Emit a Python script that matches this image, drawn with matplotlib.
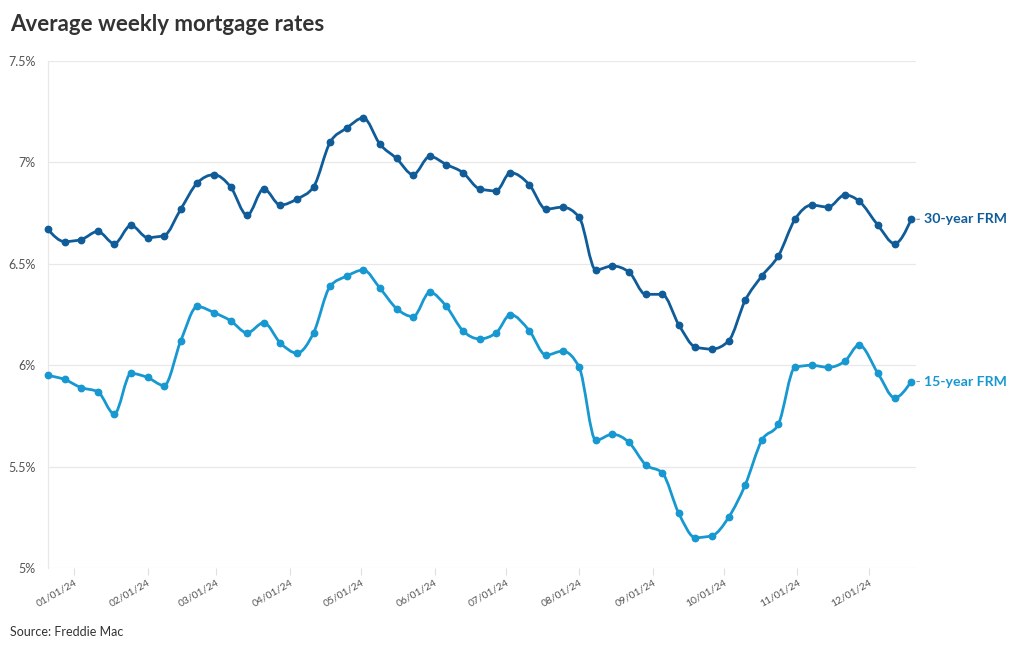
import numpy as np
import pandas as pd
import matplotlib
matplotlib.use("Agg")
import matplotlib.pyplot as plt
import matplotlib.dates as mdates
from matplotlib.path import Path
from matplotlib.patches import PathPatch

plt.rcParams["font.family"] = ["Lato", "DejaVu Sans"]

# weekly survey dates (Freddie Mac PMMS)
dates = [
    "2023-12-21", "2023-12-28",
    "2024-01-04", "2024-01-11", "2024-01-18", "2024-01-25",
    "2024-02-01", "2024-02-08", "2024-02-15", "2024-02-22", "2024-02-29",
    "2024-03-07", "2024-03-14", "2024-03-21", "2024-03-28",
    "2024-04-04", "2024-04-11", "2024-04-18", "2024-04-25",
    "2024-05-02", "2024-05-09", "2024-05-16", "2024-05-23", "2024-05-30",
    "2024-06-06", "2024-06-13", "2024-06-20", "2024-06-27",
    "2024-07-03", "2024-07-11", "2024-07-18", "2024-07-25",
    "2024-08-01", "2024-08-08", "2024-08-15", "2024-08-22", "2024-08-29",
    "2024-09-05", "2024-09-12", "2024-09-19", "2024-09-26",
    "2024-10-03", "2024-10-10", "2024-10-17", "2024-10-24", "2024-10-31",
    "2024-11-07", "2024-11-14", "2024-11-21", "2024-11-27",
    "2024-12-05", "2024-12-12", "2024-12-19",
]

frm30 = [
    6.67, 6.61,
    6.62, 6.66, 6.60, 6.69,
    6.63, 6.64, 6.77, 6.90, 6.94,
    6.88, 6.74, 6.87, 6.79,
    6.82, 6.88, 7.10, 7.17,
    7.22, 7.09, 7.02, 6.94, 7.03,
    6.99, 6.95, 6.87, 6.86,
    6.95, 6.89, 6.77, 6.78,
    6.73, 6.47, 6.49, 6.46, 6.35,
    6.35, 6.20, 6.09, 6.08,
    6.12, 6.32, 6.44, 6.54, 6.72,
    6.79, 6.78, 6.84, 6.81,
    6.69, 6.60, 6.72,
]

frm15 = [
    5.95, 5.93,
    5.89, 5.87, 5.76, 5.96,
    5.94, 5.90, 6.12, 6.29, 6.26,
    6.22, 6.16, 6.21, 6.11,
    6.06, 6.16, 6.39, 6.44,
    6.47, 6.38, 6.28, 6.24, 6.36,
    6.29, 6.17, 6.13, 6.16,
    6.25, 6.17, 6.05, 6.07,
    5.99, 5.63, 5.66, 5.62, 5.51,
    5.47, 5.27, 5.15, 5.16,
    5.25, 5.41, 5.63, 5.71, 5.99,
    6.00, 5.99, 6.02, 6.10,
    5.96, 5.84, 5.92,
]

series_names = ["30-year FRM", "15-year FRM"]
colors = ["#0f5c99", "#1798d0"]

x = mdates.date2num(pd.to_datetime(dates))


def monotone_path(xs, ys):
    # cubic bezier path like d3's curveMonotoneX
    xs = np.asarray(xs, float)
    ys = np.asarray(ys, float)
    n = len(xs)
    h = np.diff(xs)
    s = np.diff(ys) / h
    t = np.zeros(n)
    for i in range(1, n - 1):
        p = (s[i - 1] * h[i] + s[i] * h[i - 1]) / (h[i - 1] + h[i])
        t[i] = (np.sign(s[i - 1]) + np.sign(s[i])) * min(abs(s[i - 1]), abs(s[i]), 0.5 * abs(p))
    t[0] = (3 * s[0] - t[1]) / 2
    t[-1] = (3 * s[-1] - t[-2]) / 2
    verts = [(xs[0], ys[0])]
    codes = [Path.MOVETO]
    for i in range(n - 1):
        dx = h[i] / 3
        verts += [(xs[i] + dx, ys[i] + dx * t[i]),
                  (xs[i + 1] - dx, ys[i + 1] - dx * t[i + 1]),
                  (xs[i + 1], ys[i + 1])]
        codes += [Path.CURVE4] * 3
    return Path(verts, codes)


fig = plt.figure(figsize=(10.2, 6.5), dpi=100)
ax = fig.add_axes([0.047, 0.126, 0.851, 0.780])

for vals, name, c in zip([frm30, frm15], series_names, colors):
    ax.add_patch(PathPatch(monotone_path(x, vals), fill=False, edgecolor=c,
                           lw=2.0, capstyle="round", joinstyle="round", zorder=3))
    ax.plot(x, vals, "o", color=c, ms=4.6, zorder=4, clip_on=False)
    ax.annotate(name, xy=(x[-1], vals[-1]), xytext=(9.5, 0), textcoords="offset points",
                va="center", ha="left", color=c, fontsize=10.2, fontweight="bold",
                arrowprops=dict(arrowstyle="-", color="#8a9bb0", lw=0.8, shrinkA=1.5, shrinkB=4))

ax.set_xlim(mdates.date2num(pd.Timestamp("2023-12-21")), mdates.date2num(pd.Timestamp("2024-12-21")))
ax.set_ylim(5, 7.5)

ax.set_yticks([5, 5.5, 6, 6.5, 7, 7.5])
ax.set_yticklabels(["5%", "5.5%", "6%", "6.5%", "7%", "7.5%"])
ax.yaxis.grid(True, color="#e8e8e8", lw=0.9)
ax.set_axisbelow(True)

ax.xaxis.set_major_locator(mdates.MonthLocator())
ax.xaxis.set_major_formatter(mdates.DateFormatter("%m/%d/%y"))
ax.tick_params(axis="x", colors="#e0e0e0", length=5, width=0.8, labelcolor="#555555",
               labelsize=7.5, pad=2)
ax.tick_params(axis="y", length=0, labelcolor="#555555", labelsize=9, pad=9)
for lab in ax.get_xticklabels():
    lab.set_rotation(30)
    lab.set_ha("right")
    lab.set_rotation_mode("anchor")

for side in ["top", "right", "bottom"]:
    ax.spines[side].set_visible(False)
ax.spines["left"].set_color("#e8e8e8")
ax.spines["left"].set_linewidth(0.9)

fig.text(0.010, 0.962, "Average weekly mortgage rates", fontsize=16, fontweight="bold",
         color="#333333", va="center", ha="left")
fig.text(0.010, 0.028, "Source: Freddie Mac", fontsize=9, color="#333333", va="center", ha="left")

fig.savefig("out.png", dpi=100)
